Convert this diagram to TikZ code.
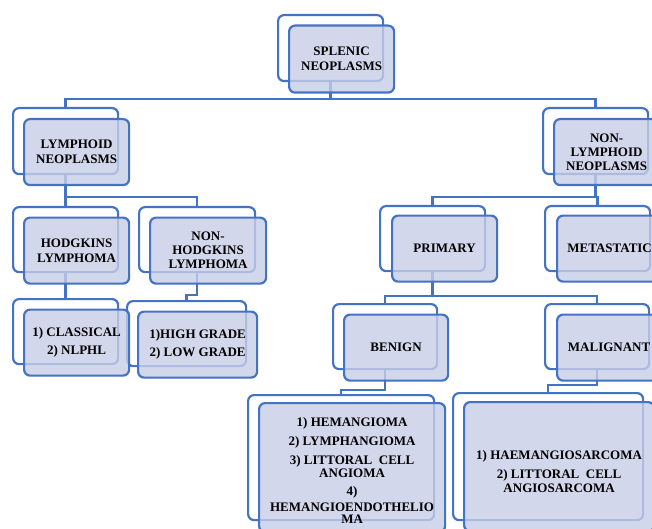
\documentclass[tikz,border=0pt]{standalone}
\usepackage{fontspec}
\setmainfont{Liberation Serif}
\usepackage{tikz}
\usetikzlibrary{positioning}
\definecolor{smblue}{RGB}{68,114,196}
\definecolor{smfill}{RGB}{199,206,230}

\begin{document}
\begin{tikzpicture}[
  x=1pt, y=-1pt,
  backbox/.style={draw=smblue,line width=2.2pt,rounded corners=6pt,fill=white,
              anchor=north west,minimum width=105pt,minimum height=65pt,inner sep=0pt},
  frontbox/.style={draw=smblue,line width=2.2pt,rounded corners=6pt,fill=smfill,
              fill opacity=0.8,text opacity=1,minimum width=105pt,minimum height=66pt,
              align=center,inner sep=1pt,font=\bfseries\fontsize{13}{14}\selectfont},
  link/.style={draw=smblue,line width=2.4pt}
]
\useasboundingbox (0,0) rectangle (652,529);

% back outlines
\node[backbox,minimum height=66pt] (splenicB) at (277,14) {};
\node[backbox,minimum height=66pt] (lymphB) at (12,107) {};
\node[backbox,minimum height=66pt] (nonlymphB) at (542,107) {};
\node[backbox] (hodgB) at (12,206) {};
\node[backbox,minimum width=116pt] (nonhodgB) at (138,206) {};
\node[backbox] (classB) at (12,298) {};
\node[backbox,minimum width=119pt] (gradeB) at (126,300) {};
\node[backbox] (primB) at (379,205) {};
\node[backbox] (metaB) at (544,205) {};
\node[backbox,minimum width=104pt] (benB) at (332,303) {};
\node[backbox,minimum width=104pt] (malB) at (544,303) {};
\node[backbox,minimum width=186pt,minimum height=125pt] (benlistB) at (247,394) {};
\node[backbox,minimum width=190pt,minimum height=127pt] (mallistB) at (452,392) {};

% connectors
\draw[link] (splenicB.south) -- ++(0,17) coordinate (j1);
\draw[link] (j1) -| (lymphB.north);
\draw[link] (j1) -| (nonlymphB.north);
\draw[link] (lymphB.south) -- ++(0,22) coordinate (j2);
\draw[link] (j2) -| (hodgB.north);
\draw[link] (j2) -| (nonhodgB.north);
\draw[link] (hodgB.south) -- (classB.north);
\draw[link] (nonhodgB.south) -- ++(0,22) -| (gradeB.north);
\draw[link] (nonlymphB.south) -- ++(0,22) coordinate (j3);
\draw[link] (j3) -| (primB.north);
\draw[link] (j3) -| (metaB.north);
\draw[link] (primB.south) -- ++(0,24) coordinate (j4);
\draw[link] (j4) -| (benB.north);
\draw[link] (j4) -| (malB.north);
\draw[link] (benB.south) -- ++(0,20) -| (benlistB.north);
\draw[link] (malB.south) -- ++(0,15) -| (mallistB.north);

% filled cards
\node[frontbox,minimum height=67pt] (splenic) at ([shift={(11,11)}]splenicB.center) {SPLENIC\\[1pt]NEOPLASMS};
\node[frontbox,minimum height=66pt] (lymph) at ([shift={(11,11)}]lymphB.center) {LYMPHOID\\[1pt]NEOPLASMS};
\node[frontbox,minimum height=66pt] (nonlymph) at ([shift={(11,11)}]nonlymphB.center) {NON-\\LYMPHOID\\NEOPLASMS};
\node[frontbox] (hodg) at ([shift={(11,11)}]hodgB.center) {HODGKINS\\[1pt]LYMPHOMA};
\node[frontbox,minimum width=116pt] (nonhodg) at ([shift={(11,11)}]nonhodgB.center) {NON-\\HODGKINS\\LYMPHOMA};
\node[frontbox] (class) at ([shift={(11,11)}]classB.center) {1) CLASSICAL\\[4pt]2) NLPHL};
\node[frontbox,minimum width=119pt] (grade) at ([shift={(11,11)}]gradeB.center) {1)HIGH GRADE\\[4pt]2) LOW GRADE};
\node[frontbox] (prim) at ([shift={(12,10)}]primB.center) {PRIMARY};
\node[frontbox] (meta) at ([shift={(12,10)}]metaB.center) {METASTATIC};
\node[frontbox,minimum width=104pt] (ben) at ([shift={(11,11)}]benB.center) {BENIGN};
\node[frontbox,minimum width=104pt] (mal) at ([shift={(12,11)}]malB.center) {MALIGNANT};
\node[frontbox,minimum width=186pt,minimum height=129pt] (benlist) at ([shift={(11,10)}]benlistB.center)
  {\rule{0pt}{14pt}1) HEMANGIOMA\\[5pt]2) LYMPHANGIOMA\\[5pt]3) LITTORAL\ \ CELL\\[-1pt]ANGIOMA\\[4pt]4)\\[2pt]HEMANGIOENDOTHELIO\\[-2pt]MA};
\node[frontbox,minimum width=190pt,minimum height=129pt] (mallist) at ([shift={(11,10)}]mallistB.center)
  {\rule{0pt}{19pt}1) HAEMANGIOSARCOMA\\[5pt]2) LITTORAL\ \ CELL\\[0pt]ANGIOSARCOMA};
\end{tikzpicture}
\end{document}
